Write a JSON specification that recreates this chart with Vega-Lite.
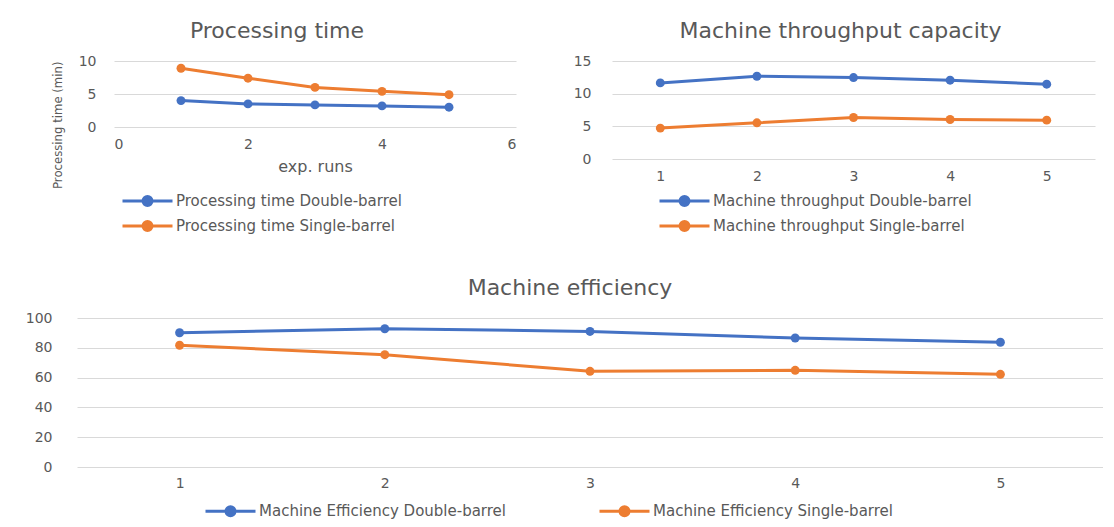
{
  "$schema": "https://vega.github.io/schema/vega-lite/v6.json",
  "padding": {"left": 25, "top": 20, "right": 0, "bottom": 0},
  "background": "white",
  "config": {
    "font": "DejaVu Sans",
    "view": {"stroke": null},
    "axis": {"labelColor": "#595959", "titleColor": "#595959", "labelFontSize": 14, "titleFontWeight": "normal", "ticks": false, "domain": false, "gridColor": "#D9D9D9", "gridWidth": 1, "labelFont": "DejaVu Sans", "titleFont": "DejaVu Sans"},
    "title": {"color": "#595959", "fontSize": 22, "fontWeight": "normal", "font": "DejaVu Sans"},
    "legend": {"labelColor": "#595959", "labelFontSize": 15, "labelLimit": 500, "labelFont": "DejaVu Sans", "symbolType": "M-1,0L3,0M1.36,0A0.36,0.36,0,1,1,0.64,0A0.36,0.36,0,1,1,1.36,0Z", "symbolSize": 625, "symbolStrokeWidth": 3, "labelOffset": 27, "rowPadding": -2}
  },
  "datasets": {
    "pt": [
      {"run": 1, "series": "Processing time Double-barrel", "value": 4.0},
      {"run": 2, "series": "Processing time Double-barrel", "value": 3.5},
      {"run": 3, "series": "Processing time Double-barrel", "value": 3.35},
      {"run": 4, "series": "Processing time Double-barrel", "value": 3.2},
      {"run": 5, "series": "Processing time Double-barrel", "value": 3.0},
      {"run": 1, "series": "Processing time Single-barrel", "value": 8.9},
      {"run": 2, "series": "Processing time Single-barrel", "value": 7.4},
      {"run": 3, "series": "Processing time Single-barrel", "value": 6.0},
      {"run": 4, "series": "Processing time Single-barrel", "value": 5.4},
      {"run": 5, "series": "Processing time Single-barrel", "value": 4.9}
    ],
    "tp": [
      {"run": "1", "series": "Machine throughput Double-barrel", "value": 11.65},
      {"run": "2", "series": "Machine throughput Double-barrel", "value": 12.67},
      {"run": "3", "series": "Machine throughput Double-barrel", "value": 12.46},
      {"run": "4", "series": "Machine throughput Double-barrel", "value": 12.06},
      {"run": "5", "series": "Machine throughput Double-barrel", "value": 11.45},
      {"run": "1", "series": "Machine throughput Single-barrel", "value": 4.73},
      {"run": "2", "series": "Machine throughput Single-barrel", "value": 5.54},
      {"run": "3", "series": "Machine throughput Single-barrel", "value": 6.35},
      {"run": "4", "series": "Machine throughput Single-barrel", "value": 6.05},
      {"run": "5", "series": "Machine throughput Single-barrel", "value": 5.95}
    ],
    "ef": [
      {"run": "1", "series": "Machine Efficiency Double-barrel", "value": 90.1},
      {"run": "2", "series": "Machine Efficiency Double-barrel", "value": 92.8},
      {"run": "3", "series": "Machine Efficiency Double-barrel", "value": 91.0},
      {"run": "4", "series": "Machine Efficiency Double-barrel", "value": 86.6},
      {"run": "5", "series": "Machine Efficiency Double-barrel", "value": 83.7},
      {"run": "1", "series": "Machine Efficiency Single-barrel", "value": 81.7},
      {"run": "2", "series": "Machine Efficiency Single-barrel", "value": 75.4},
      {"run": "3", "series": "Machine Efficiency Single-barrel", "value": 64.2},
      {"run": "4", "series": "Machine Efficiency Single-barrel", "value": 64.9},
      {"run": "5", "series": "Machine Efficiency Single-barrel", "value": 62.2}
    ]
  },
  "resolve": {"scale": {"color": "independent"}, "legend": {"color": "independent"}},
  "spacing": 40,
  "vconcat": [
    {
      "spacing": 0,
      "resolve": {"scale": {"color": "independent"}, "legend": {"color": "independent"}},
      "hconcat": [
        {
          "data": {"name": "pt"},
          "width": 1,
          "height": 66,
          "mark": {"type": "point", "opacity": 0, "size": 0},
          "encoding": {
            "y": {"field": "value", "type": "quantitative", "scale": {"domain": [0, 10]}, "axis": {"labels": false, "grid": false, "title": "Processing time (min)", "titleFont": "DejaVu Sans Condensed", "titleFontSize": 13, "titleAnchor": "end", "titlePadding": 13}}
          }
        },
        {
          "spacing": 57,
          "resolve": {"scale": {"color": "independent"}, "legend": {"color": "independent"}},
          "hconcat": [
            {
              "data": {"name": "pt"},
              "width": 402,
              "height": 66,
              "title": {"text": "Processing time", "dx": -38, "offset": 11},
              "mark": {"type": "line", "strokeWidth": 3, "point": {"filled": true, "size": 80}},
              "encoding": {
                "x": {"field": "run", "type": "quantitative", "scale": {"domain": [0, 6]}, "axis": {"values": [0, 2, 4, 6], "grid": false, "title": "exp. runs", "titleFontSize": 16, "labelPadding": 10, "titlePadding": 7}},
                "y": {"field": "value", "type": "quantitative", "scale": {"domain": [0, 10]}, "axis": {"values": [0, 5, 10], "title": null, "labelPadding": 18}},
                "color": {"field": "series", "type": "nominal", "scale": {"domain": ["Processing time Double-barrel", "Processing time Single-barrel"], "range": ["#4472C4", "#ED7D31"]}, "legend": {"orient": "none", "legendX": 7, "legendY": 126, "direction": "vertical", "title": null}}
              }
            },
            {
              "data": {"name": "tp"},
              "width": 483,
              "height": 98,
              "title": {"text": "Machine throughput capacity", "dx": -13, "offset": 11},
              "mark": {"type": "line", "strokeWidth": 3, "point": {"filled": true, "size": 80}},
              "encoding": {
                "x": {"field": "run", "type": "ordinal", "scale": {"type": "point", "padding": 0.5}, "axis": {"labelAngle": 0, "grid": false, "title": null, "labelPadding": 10}},
                "y": {"field": "value", "type": "quantitative", "scale": {"domain": [0, 15]}, "axis": {"values": [0, 5, 10, 15], "title": null, "labelPadding": 21}},
                "color": {"field": "series", "type": "nominal", "scale": {"domain": ["Machine throughput Double-barrel", "Machine throughput Single-barrel"], "range": ["#4472C4", "#ED7D31"]}, "legend": {"orient": "none", "legendX": 46, "legendY": 126, "direction": "vertical", "title": null}}
              }
            }
          ]
        }
      ]
    },
    {
      "resolve": {"scale": {"color": "independent"}, "legend": {"color": "independent"}},
      "hconcat": [
        {
          "data": {"name": "ef"},
          "width": 1026,
          "height": 149,
          "title": {"text": "Machine efficiency", "dx": -20, "offset": 11},
          "mark": {"type": "line", "strokeWidth": 3, "point": {"filled": true, "size": 80}},
          "encoding": {
            "x": {"field": "run", "type": "ordinal", "scale": {"type": "point", "padding": 0.5}, "axis": {"labelAngle": 0, "grid": false, "title": null, "labelPadding": 9}},
            "y": {"field": "value", "type": "quantitative", "scale": {"domain": [0, 100]}, "axis": {"values": [0, 20, 40, 60, 80, 100], "title": null, "labelPadding": 25}},
            "color": {"field": "series", "type": "nominal", "scale": {"domain": ["Machine Efficiency Double-barrel", "Machine Efficiency Single-barrel"], "range": ["#4472C4", "#ED7D31"]}, "legend": {"orient": "none", "legendX": 127, "legendY": 179, "direction": "horizontal", "title": null, "columnPadding": 87}}
          }
        }
      ]
    }
  ]
}
